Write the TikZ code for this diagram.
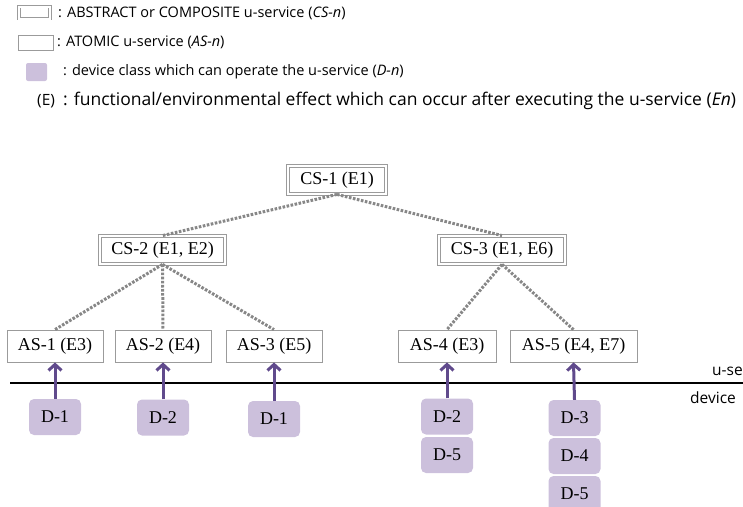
\documentclass[tikz,border=0pt]{standalone}
\usepackage{fontspec}
\setmainfont{Liberation Serif}
\newfontfamily\legendfont{Open Sans}
\usetikzlibrary{arrows.meta}
\definecolor{devfill}{RGB}{204,192,220}
\definecolor{arrowpurple}{RGB}{96,74,140}
\definecolor{dotgray}{RGB}{135,135,135}
\definecolor{boxgray}{RGB}{155,155,155}
\begin{document}
\begin{tikzpicture}[x=1pt,y=-1pt,
  csbox/.style={draw=boxgray, double=white, double distance=2.2pt, line width=0.8pt,
    fill=white, minimum width=#1, minimum height=28pt, inner sep=0pt,
    font=\fontsize{18}{20}\selectfont},
  asbox/.style={draw=boxgray, line width=0.8pt, fill=white, minimum width=#1,
    minimum height=32pt, inner sep=0pt, font=\fontsize{18}{20}\selectfont},
  devbox/.style={fill=devfill, rounded corners=5pt, minimum width=52pt,
    minimum height=36pt, inner sep=0pt, font=\fontsize{18}{20}\selectfont},
  dotline/.style={draw=dotgray, line width=3pt, dash pattern=on 2.6pt off 1.5pt},
  arr/.style={draw=arrowpurple, line width=3pt, -{Straight Barb[length=6pt,width=13pt]}},
  legtext/.style={anchor=west, inner sep=0pt, font=\legendfont\fontsize{14.5}{16}\selectfont},
  legbig/.style={anchor=west, inner sep=0pt, font=\legendfont\fontsize{17.5}{19}\selectfont},
  layertext/.style={anchor=west, inner sep=0pt, font=\legendfont\fontsize{15.5}{17}\selectfont},
]
\useasboundingbox (0,0) rectangle (743,506);
\clip (0,0) rectangle (743,506);

% legend
\node[draw=boxgray, double=white, double distance=2pt, line width=0.8pt,
  minimum width=31pt, minimum height=12pt, inner sep=0pt] (lcs) at (34.5,12.5) {};
\node[legtext] (lcst) at (58,13) {: ABSTRACT or COMPOSITE u-service (\textit{CS-n})};
\node[draw=boxgray, line width=0.8pt, minimum width=35pt, minimum height=15pt,
  inner sep=0pt] (las) at (35.5,42.5) {};
\node[legtext] (last) at (57,42) {: ATOMIC u-service (\textit{AS-n})};
\node[fill=devfill, rounded corners=2pt, minimum width=21pt, minimum height=18pt,
  inner sep=0pt] (ldev) at (36.5,72) {};
\node[legtext] (ldevt) at (63,72) {: device class which can operate the u-service (\textit{D-n})};
\node[layertext] (le) at (37,101) {(E)};
\node[legbig] (let) at (63,101) {: functional/environmental effect which can occur after executing the u-service (\textit{En})};

% composite services
\node[csbox=98pt] (cs1) at (337,180) {CS-1 (E1)};
\node[csbox=125pt] (cs2) at (162.5,250) {CS-2 (E1, E2)};
\node[csbox=126pt] (cs3) at (502,250) {CS-3 (E1, E6)};

% atomic services
\node[asbox=96pt] (as1) at (55,346) {AS-1 (E3)};
\node[asbox=96pt] (as2) at (163,346) {AS-2 (E4)};
\node[asbox=96pt] (as3) at (274,346) {AS-3 (E5)};
\node[asbox=98pt] (as4) at (447,346) {AS-4 (E3)};
\node[asbox=127pt] (as5) at (573.5,346) {AS-5 (E4, E7)};

% dotted tree links
\draw[dotline] (cs1.south) -- (cs2.north);
\draw[dotline] (cs1.south) -- (cs3.north);
\draw[dotline] (cs2.south) -- (as1.north);
\draw[dotline] (cs2.south) -- (as2.north);
\draw[dotline] (cs2.south) -- (as3.north);
\draw[dotline] (cs3.south) -- (as4.north);
\draw[dotline] (cs3.south) -- (as5.north);

% layer separator
\coordinate (sepL) at (10,383);
\coordinate (sepR) at (743,383);
\draw[line width=1.2pt] (sepL) -- (sepR);
\node[layertext] (uslayer) at (712,370) {u-service};
\node[layertext] (devlayer) at (690,398) {device};

% devices
\node[devbox] (d1) at (55,417) {D-1};
\node[devbox] (d2) at (163,417.5) {D-2};
\node[devbox] (d3) at (274,419) {D-1};
\node[devbox] (d4a) at (447,416.5) {D-2};
\node[devbox] (d4b) at (447,455) {D-5};
\node[devbox] (d5a) at (574.5,418) {D-3};
\node[devbox] (d5b) at (574.5,456) {D-4};
\node[devbox] (d5c) at (574.5,494) {D-5};

% arrows
\draw[arr] (d1.north) -- (as1.south);
\draw[arr] (d2.north) -- (as2.south);
\draw[arr] (d3.north) -- (as3.south);
\draw[arr] (d4a.north) -- (as4.south);
\draw[arr] (d5a.north) -- (as5.south);
\end{tikzpicture}
\end{document}
